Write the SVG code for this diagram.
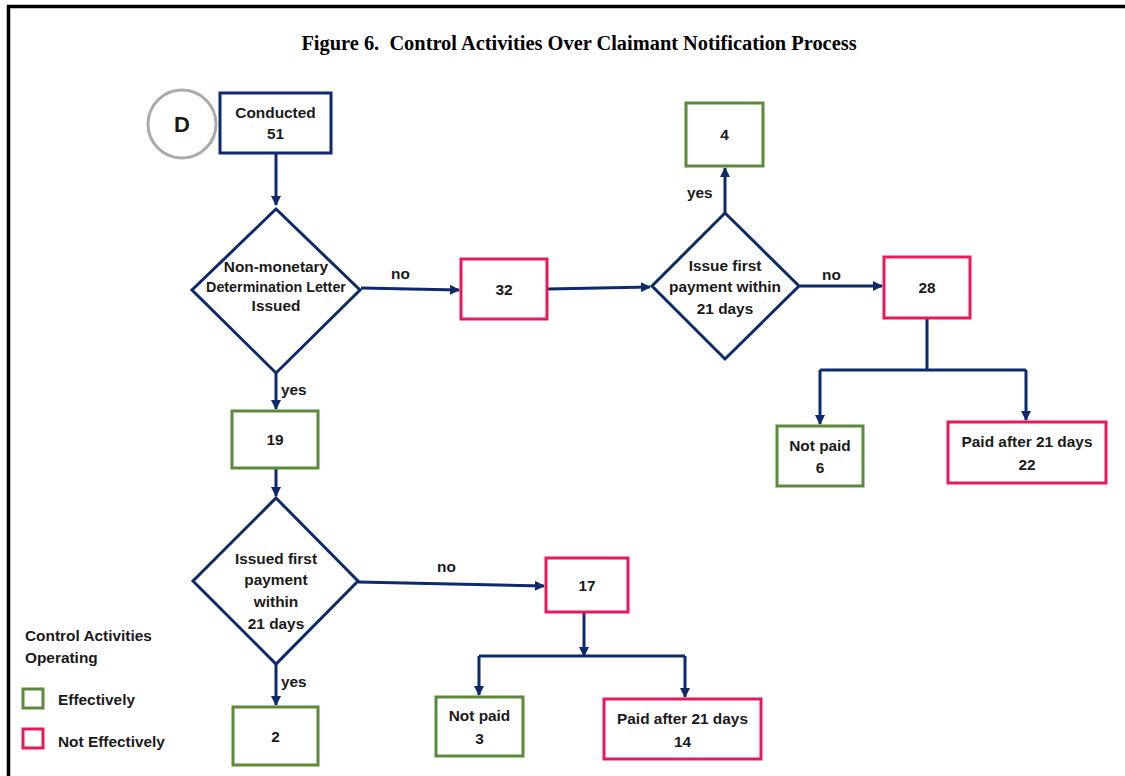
<svg xmlns="http://www.w3.org/2000/svg" width="1125" height="776" viewBox="0 0 1125 776">
<defs>
<marker id="ah" markerWidth="10" markerHeight="10" refX="9" refY="5" orient="auto" markerUnits="userSpaceOnUse">
<path d="M0,0 L10,5 L0,10 Z" fill="#0d2a6b"/>
</marker>
<style>
.t{font-family:"Liberation Sans",Arial,sans-serif;font-weight:bold;font-size:15.4px;fill:#1a1a1a;text-anchor:middle}
.tl{font-family:"Liberation Sans",Arial,sans-serif;font-weight:bold;font-size:15.4px;fill:#1a1a1a}
.nv{fill:#fff;stroke:#0d2a6b;stroke-width:3}
.gr{fill:#fff;stroke:#5a8a3a;stroke-width:3}
.pk{fill:#fff;stroke:#e8185a;stroke-width:3}
.c{fill:none;stroke:#0d2a6b;stroke-width:3}
</style>
</defs>
<rect width="1125" height="776" fill="#fff"/>
<path d="M8.5,776 V6.5 H1125" fill="none" stroke="#000" stroke-width="3.5"/>
<text x="579" y="50" text-anchor="middle" font-family="'Liberation Serif','Times New Roman',serif" font-weight="bold" font-size="20.4" fill="#000" xml:space="preserve">Figure 6.  Control Activities Over Claimant Notification Process</text>

<g id="connectors">
<path class="c" d="M276,154 V205" marker-end="url(#ah)"/>
<path class="c" d="M361,288 L459,290" marker-end="url(#ah)"/>
<path class="c" d="M548,289 L650,287" marker-end="url(#ah)"/>
<path class="c" d="M725,213 V168" marker-end="url(#ah)"/>
<path class="c" d="M800,286 H882" marker-end="url(#ah)"/>
<path class="c" d="M927,319 V370"/>
<path class="c" d="M820,370 H1026"/>
<path class="c" d="M820,370 V424" marker-end="url(#ah)"/>
<path class="c" d="M1026,370 V420" marker-end="url(#ah)"/>
<path class="c" d="M276,373 V409" marker-end="url(#ah)"/>
<path class="c" d="M276,469 V496" marker-end="url(#ah)"/>
<path class="c" d="M358,582 L544,586" marker-end="url(#ah)"/>
<path class="c" d="M584,613 V656" marker-end="url(#ah)"/>
<path class="c" d="M479,656 H685"/>
<path class="c" d="M479,656 V695" marker-end="url(#ah)"/>
<path class="c" d="M685,656 V697" marker-end="url(#ah)"/>
<path class="c" d="M276,664 V705" marker-end="url(#ah)"/>
<text class="tl" x="391" y="279">no</text>
<text class="tl" x="687" y="198">yes</text>
<text class="tl" x="822" y="280">no</text>
<text class="tl" x="281" y="395">yes</text>
<text class="tl" x="437" y="572">no</text>
<text class="tl" x="281" y="687">yes</text>
</g>

<g id="nodeD">
<circle cx="182" cy="124" r="34" fill="#fff" stroke="#aaaaaa" stroke-width="3"/>
<text x="182" y="132" text-anchor="middle" font-family="'Liberation Sans',Arial,sans-serif" font-weight="bold" font-size="22" fill="#1a1a1a">D</text>
</g>
<g id="conducted">
<rect class="nv" x="220" y="93" width="111" height="60"/>
<text class="t" x="275.5" y="118">Conducted</text>
<text class="t" x="275.5" y="139">51</text>
</g>
<g id="decision1">
<path class="nv" d="M276,209 L360,290 L276,373 L192,290 Z"/>
<text class="t" x="276" y="272">Non-monetary</text>
<text class="t" x="276" y="292" style="font-size:14.3px">Determination Letter</text>
<text class="t" x="276" y="311">Issued</text>
</g>
<g id="n32">
<rect class="pk" x="461" y="259" width="86" height="60"/>
<text class="t" x="504" y="295">32</text>
</g>
<g id="decision2">
<path class="nv" d="M725,213 L799,286 L725,359 L652,286 Z"/>
<text class="t" x="725" y="271">Issue first</text>
<text class="t" x="725" y="292">payment within</text>
<text class="t" x="725" y="314">21 days</text>
</g>
<g id="n4">
<rect class="gr" x="686" y="103" width="77" height="63"/>
<text class="t" x="724.5" y="140">4</text>
</g>
<g id="n28">
<rect class="pk" x="884" y="257" width="86" height="61"/>
<text class="t" x="927" y="293">28</text>
</g>
<g id="notpaid6">
<rect class="gr" x="777" y="426" width="86" height="60"/>
<text class="t" x="820" y="451">Not paid</text>
<text class="t" x="820" y="473">6</text>
</g>
<g id="paid22">
<rect class="pk" x="948" y="422" width="158" height="61"/>
<text class="t" x="1027" y="447">Paid after 21 days</text>
<text class="t" x="1027" y="470">22</text>
</g>
<g id="n19">
<rect class="gr" x="232" y="411" width="86" height="57"/>
<text class="t" x="275" y="445">19</text>
</g>
<g id="decision3">
<path class="nv" d="M276,498 L358,581 L276,664 L193,581 Z"/>
<text class="t" x="276" y="564">Issued first</text>
<text class="t" x="276" y="585">payment</text>
<text class="t" x="276" y="607">within</text>
<text class="t" x="276" y="629">21 days</text>
</g>
<g id="n17">
<rect class="pk" x="546" y="558" width="82" height="54"/>
<text class="t" x="587" y="591">17</text>
</g>
<g id="notpaid3">
<rect class="gr" x="436" y="697" width="87" height="59"/>
<text class="t" x="479.5" y="721">Not paid</text>
<text class="t" x="479.5" y="744">3</text>
</g>
<g id="paid14">
<rect class="pk" x="604" y="699" width="157" height="60"/>
<text class="t" x="682.5" y="724">Paid after 21 days</text>
<text class="t" x="682.5" y="747">14</text>
</g>
<g id="n2">
<rect class="gr" x="233" y="707" width="85" height="58"/>
<text class="t" x="275.5" y="742">2</text>
</g>
<g id="legend">
<text class="tl" x="25" y="641">Control Activities</text>
<text class="tl" x="25" y="663">Operating</text>
<rect class="gr" x="23" y="689" width="20" height="19"/>
<text class="tl" x="58" y="705">Effectively</text>
<rect class="pk" x="23" y="729" width="20" height="19"/>
<text class="tl" x="58" y="747">Not Effectively</text>
</g>
</svg>
